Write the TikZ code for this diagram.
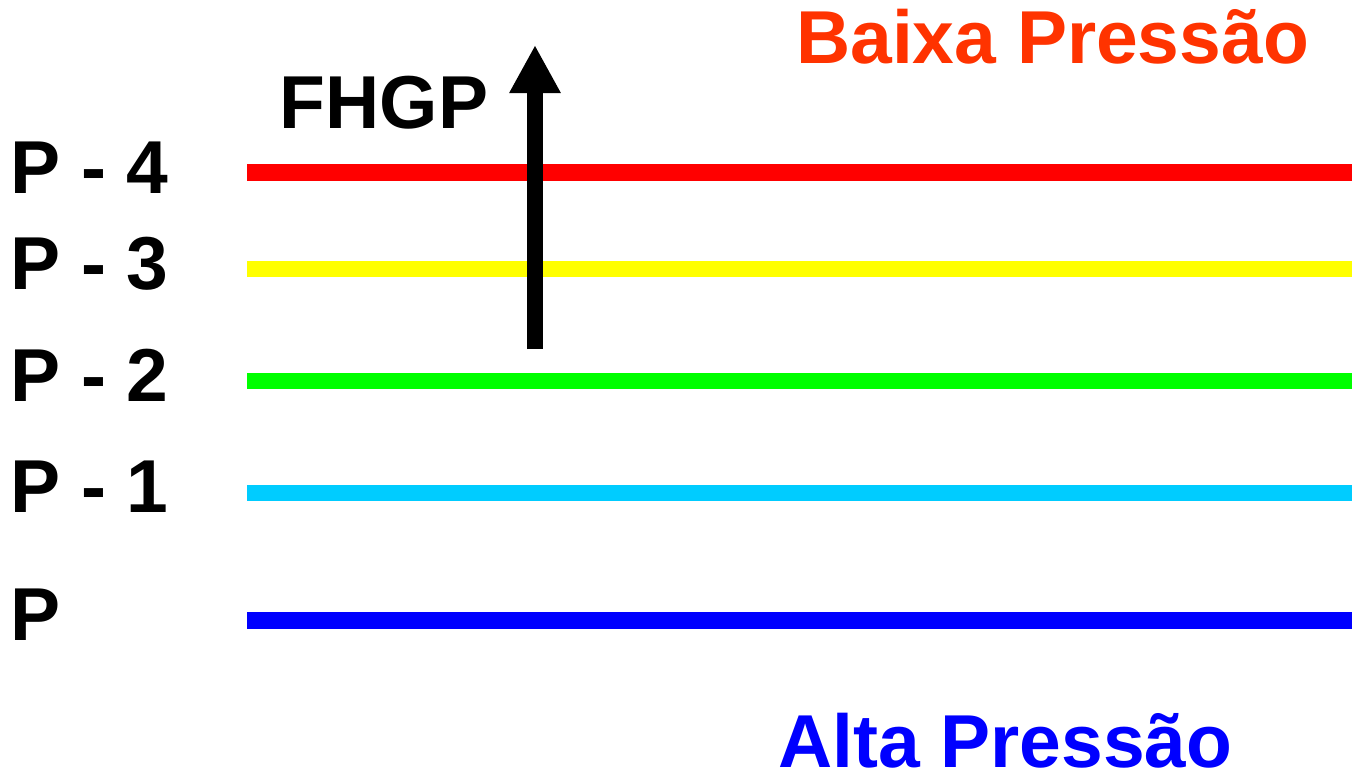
\documentclass[tikz,border=0pt]{standalone}
\usepackage{fontspec}
\setmainfont{Liberation Sans}
\usetikzlibrary{arrows.meta}
\definecolor{lowp}{HTML}{FF3300}
\definecolor{highp}{HTML}{0000FF}
\definecolor{lvlfour}{HTML}{FF0000}
\definecolor{lvlthree}{HTML}{FFFF00}
\definecolor{lvltwo}{HTML}{00FF00}
\definecolor{lvlone}{HTML}{00CCFF}
\definecolor{lvlzero}{HTML}{0000FF}
\begin{document}
\begin{tikzpicture}[x=1pt,y=-1pt,
  level/.style={line width=16.5pt},
  lbl/.style={inner sep=0pt,anchor=base west,text depth=0pt,font=\fontsize{75}{90}\selectfont\bfseries},
  title/.style={inner sep=0pt,anchor=base west,text depth=0pt,font=\fontsize{75}{90}\selectfont\bfseries},
  gradient/.style={line width=16pt,-{Triangle[length=48pt,width=48pt]}}]
\useasboundingbox (0,0) rectangle (1352,772);

% pressure levels
\draw[level,lvlfour]  (247,172.5) -- (1352,172.5);
\draw[level,lvlthree] (247,269)   -- (1352,269);
\draw[level,lvltwo]   (247,381)   -- (1352,381);
\draw[level,lvlone]   (247,493)   -- (1352,493);
\draw[level,lvlzero]  (247,620.5) -- (1352,620.5);

% level labels
\node[lbl] (l4) at (10,193) {P - 4};
\node[lbl] (l3) at (10,289) {P - 3};
\node[lbl] (l2) at (10,401) {P - 2};
\node[lbl] (l1) at (10,512) {P - 1};
\node[lbl] (l0) at (10,640) {P};

% pressure gradient force
\coordinate (gbase) at (535,349);
\coordinate (gtip) at (535,45);
\draw[gradient] (gbase) -- (gtip);
\node[title] (fhgp) at (279.5,128) {FHGP};

% high / low pressure
\node[title,text=lowp] (low) at (796,63) {Baixa Pressão};
\node[title,text=highp] (high) at (778,767) {Alta Pressão};
\end{tikzpicture}
\end{document}
